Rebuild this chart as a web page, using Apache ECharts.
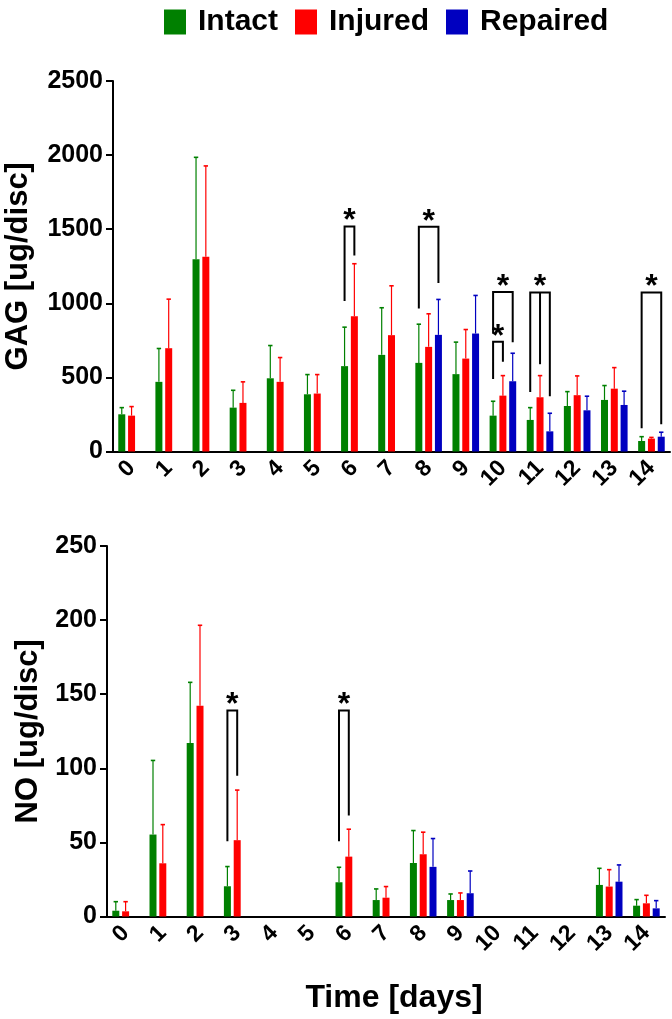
<!DOCTYPE html>
<html>
<head>
<meta charset="utf-8">
<script src="https://cdn.jsdelivr.net/npm/echarts@6/dist/echarts.min.js"></script>
<style>
html,body{margin:0;padding:0;background:#fff;}
#chart{width:672px;height:1019px;}
</style>
</head>
<body>
<div id="chart"></div>
<script>
// ---------- data ----------
const days = ['0','1','2','3','4','5','6','7','8','9','10','11','12','13','14'];
const seriesNames = ['Intact','Injured','Repaired'];
const seriesColors = ['#008000','#FF0000','#0000C0'];

// GAG [ug/disc] : means and SD
const gagIntact      = [251, 470, 1298, 296, 494, 386, 576, 652, 598, 522, 242, 213, 307, 348, 71];
const gagIntactSD    = [45, 225, 687, 117, 221, 133, 263, 318, 261, 216, 97, 83, 97, 97, 29];
const gagInjured     = [242, 697, 1314, 328, 470, 391, 913, 785, 706, 627, 377, 366, 380, 424, 87];
const gagInjuredSD   = [61, 331, 613, 142, 164, 128, 354, 333, 223, 196, 135, 146, 130, 142, 8];
const gagRepaired    = [null, null, null, null, null, null, null, null, 787, 796, 474, 136, 278, 314, 100];
const gagRepairedSD  = [null, null, null, null, null, null, null, null, 239, 257, 189, 122, 95, 93, 30];

// NO [ug/disc] : means and SD
const noIntact       = [3.9, 55.3, 117, 20.4, null, null, 23.1, 11.1, 36.1, 11.1, null, null, null, 21.3, 7.3];
const noIntactSD     = [6.1, 50, 41, 13.3, null, null, 10.1, 7.5, 21.9, 4.1, null, null, null, 11.2, 4.1];
const noInjured      = [3.5, 35.9, 142.2, 51.5, null, null, 40.4, 12.7, 42, 11.1, null, null, null, 20.2, 8.9];
const noInjuredSD    = [6.5, 26.1, 54.3, 33.8, null, null, 18.5, 7.5, 14.9, 4.8, null, null, null, 11.4, 5.4];
const noRepaired     = [null, null, null, null, null, null, null, null, 33.5, 15.7, null, null, null, 23.5, 5.5];
const noRepairedSD   = [null, null, null, null, null, null, null, null, 19.1, 15, null, null, null, 11.3, 5.2];

// significance brackets (category, from series, to series, top value, leg ends)
const gagBracketCat      = [6, 8, 10, 10, 11, 14];
const gagBracketFrom     = [0, 0, 0, 0, 0, 0];
const gagBracketTo       = [1, 2, 2, 1, 2, 2];
const gagBracketTop      = [1519, 1517, 1076, 740, 1073, 1073];
const gagBracketLeftEnd  = [1015, 965, 794, 490, 402, 157];
const gagBracketRightEnd = [1323, 1137, 738, 605, 373, 184];
const gagBracketMidEnd   = [null, null, null, null, 589, null];

const noBracketCat       = [3, 6];
const noBracketFrom      = [0, 0];
const noBracketTo        = [1, 1];
const noBracketTop       = [139, 139];
const noBracketLeftEnd   = [50.8, 50.8];
const noBracketRightEnd  = [94.9, 68.1];
const noBracketMidEnd    = [null, null];

const gagTicks = [0, 500, 1000, 1500, 2000, 2500];
const noTicks  = [0, 50, 100, 150, 200, 250];

// ---------- styling ----------
const FONT = '"Liberation Sans", Arial, sans-serif';
const BAR_W = 7;
const BAR_GAP = 0.4;
const STEP = BAR_W * (1 + BAR_GAP);

function errRender(idx){
  return function(params, api){
    const cat = api.value(0), mean = api.value(1), sd = api.value(2);
    const base = api.coord([cat, mean]);
    const top = api.coord([cat, mean + sd]);
    const x = base[0] + (idx - 1) * STEP;
    return {type:'group', children:[
      {type:'line', shape:{x1:x, y1:base[1], x2:x, y2:top[1]}, style:{stroke:seriesColors[idx], lineWidth:1.2}},
      {type:'line', shape:{x1:x-2.2, y1:top[1], x2:x+2.2, y2:top[1]}, style:{stroke:seriesColors[idx], lineWidth:1.6}}
    ]};
  };
}

function bracketRender(b){
  return function(params, api){
    const i = api.value(2);
    const cat = b.cat[i];
    const c = api.coord([cat, b.top[i]]);
    const xL = c[0] + (b.from[i] - 1) * STEP;
    const xR = c[0] + (b.to[i] - 1) * STEP;
    const yT = c[1];
    const yL = api.coord([cat, b.left[i]])[1];
    const yR = api.coord([cat, b.right[i]])[1];
    const children = [
      {type:'polyline', shape:{points:[[xL,yL],[xL,yT],[xR,yT],[xR,yR]]}, style:{stroke:'#000', lineWidth:2, fill:null}}
    ];
    if (b.mid[i] != null) {
      const xM = c[0];
      const yM = api.coord([cat, b.mid[i]])[1];
      children.push({type:'line', shape:{x1:xM, y1:yT, x2:xM, y2:yM}, style:{stroke:'#000', lineWidth:2}});
    }
    children.push({type:'text', style:{text:'*', x:(xL+xR)/2, y:yT - 5, font:'bold 32px ' + FONT, fill:'#000', align:'center', verticalAlign:'middle'}});
    return {type:'group', children};
  };
}

function barSeries(name, data, idx, axisIdx){
  return {
    name, type:'bar', data, xAxisIndex:axisIdx, yAxisIndex:axisIdx,
    barWidth:BAR_W, barGap:(BAR_GAP*100)+'%',
    itemStyle:{color:seriesColors[idx]}, z:2
  };
}
function errSeries(means, sds, idx, axisIdx){
  const data = [];
  means.forEach((m, i) => { if (m != null) data.push([i, m, sds[i]]); });
  return {type:'custom', xAxisIndex:axisIdx, yAxisIndex:axisIdx, renderItem:errRender(idx), data, encode:{x:0, y:1}, z:3, silent:true};
}
function bracketSeries(b, axisIdx){
  const data = b.cat.map((c, i) => [c, b.top[i], i]);
  return {type:'custom', xAxisIndex:axisIdx, yAxisIndex:axisIdx, renderItem:bracketRender(b), data, encode:{x:0, y:1}, z:4, silent:true, clip:false};
}

function xAxis(gridIndex, extra){
  return Object.assign({
    type:'category', gridIndex, data:days, boundaryGap:true,
    axisLine:{lineStyle:{color:'#000', width:2}},
    axisTick:{alignWithLabel:true, length:6, lineStyle:{color:'#000', width:2}},
    axisLabel:{rotate:45, margin:13, color:'#000', fontSize:23, fontWeight:'bold', fontFamily:FONT, interval:0},
    splitLine:{show:false}
  }, extra || {});
}
function yAxis(gridIndex, ticks, name, gap){
  return {
    type:'value', gridIndex, min:ticks[0], max:ticks[ticks.length-1], interval:ticks[1]-ticks[0],
    name, nameLocation:'middle', nameGap:gap, nameRotate:90,
    nameTextStyle:{color:'#000', fontSize:31, fontWeight:'bold', fontFamily:FONT},
    axisLine:{show:true, lineStyle:{color:'#000', width:2}},
    axisTick:{show:true, length:7, lineStyle:{color:'#000', width:2}},
    axisLabel:{margin:10, color:'#000', fontSize:25, fontWeight:'bold', fontFamily:FONT, formatter:(v) => String(v)},
    splitLine:{show:false}
  };
}

const gagB = {cat:gagBracketCat, from:gagBracketFrom, to:gagBracketTo, top:gagBracketTop, left:gagBracketLeftEnd, right:gagBracketRightEnd, mid:gagBracketMidEnd};
const noB  = {cat:noBracketCat, from:noBracketFrom, to:noBracketTo, top:noBracketTop, left:noBracketLeftEnd, right:noBracketRightEnd, mid:noBracketMidEnd};

const option = {
  backgroundColor:'#fff',
  animation:false,
  legend:{
    data:seriesNames, left:159, top:2, icon:'rect', itemWidth:22, itemHeight:25, itemGap:17,
    textStyle:{color:'#000', fontSize:30, fontWeight:'bold', fontFamily:FONT, padding:[0,0,0,7]},
    selectedMode:false
  },
  grid:[
    {left:113, right:2, top:81, height:370.5, outerBoundsMode:'none', containLabel:false},
    {left:107, right:7, top:546, height:370.5, outerBoundsMode:'none', containLabel:false}
  ],
  xAxis:[
    xAxis(0),
    xAxis(1, {name:'Time [days]', nameLocation:'middle', nameGap:66,
      nameTextStyle:{color:'#000', fontSize:32, fontWeight:'bold', fontFamily:FONT, padding:[0,0,0,16]}})
  ],
  yAxis:[
    yAxis(0, gagTicks, 'GAG [ug/disc]', 79),
    yAxis(1, noTicks, 'NO [ug/disc]', 63)
  ],
  series:[
    barSeries('Intact', gagIntact, 0, 0),
    barSeries('Injured', gagInjured, 1, 0),
    barSeries('Repaired', gagRepaired, 2, 0),
    errSeries(gagIntact, gagIntactSD, 0, 0),
    errSeries(gagInjured, gagInjuredSD, 1, 0),
    errSeries(gagRepaired, gagRepairedSD, 2, 0),
    bracketSeries(gagB, 0),
    barSeries('Intact', noIntact, 0, 1),
    barSeries('Injured', noInjured, 1, 1),
    barSeries('Repaired', noRepaired, 2, 1),
    errSeries(noIntact, noIntactSD, 0, 1),
    errSeries(noInjured, noInjuredSD, 1, 1),
    errSeries(noRepaired, noRepairedSD, 2, 1),
    bracketSeries(noB, 1)
  ]
};

const chart = echarts.init(document.getElementById('chart'), null, {renderer:'canvas'});
chart.setOption(option);
</script>
</body>
</html>
